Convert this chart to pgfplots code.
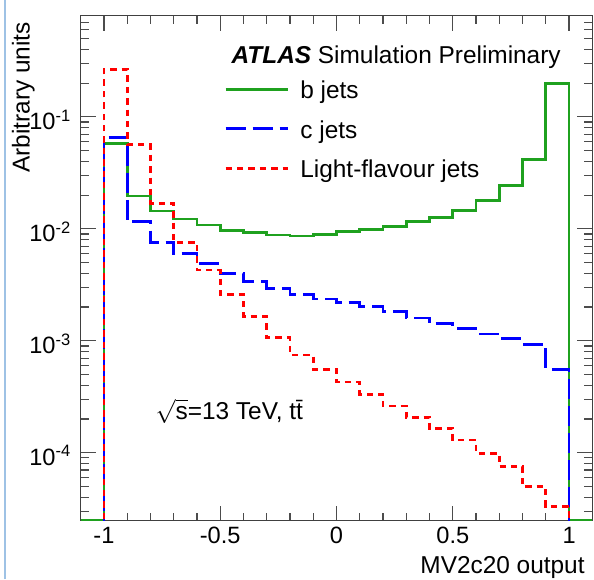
\documentclass[border=0pt]{standalone}
\usepackage{pgfplots}
\pgfplotsset{compat=1.18}
\usepackage{fontspec}
\setmainfont{Liberation Sans}
\definecolor{bgreen}{rgb}{0.12,0.63,0.12}
\definecolor{edgeblue}{rgb}{0.62,0.76,0.90}
\begin{document}
\begin{tikzpicture}[font=\fontsize{12.2}{14}\selectfont]
\begin{axis}[
  scale only axis, width=255.8pt, height=252.5pt,
  xmin=-1.1, xmax=1.1,
  ymode=log, ymin=2.47e-5, ymax=0.8,
  xtick={-1,-0.5,0,0.5,1}, xticklabels={-1,-0.5,0,0.5,1},
  minor x tick num=4,
  ytick={1e-4,1e-3,1e-2,1e-1},
  yticklabels={10\textsuperscript{-4},10\textsuperscript{-3},10\textsuperscript{-2},10\textsuperscript{-1}},
  minor ytick={3e-5,4e-5,5e-5,6e-5,7e-5,8e-5,9e-5,
    2e-4,3e-4,4e-4,5e-4,6e-4,7e-4,8e-4,9e-4,
    2e-3,3e-3,4e-3,5e-3,6e-3,7e-3,8e-3,9e-3,
    2e-2,3e-2,4e-2,5e-2,6e-2,7e-2,8e-2,9e-2,
    2e-1,3e-1,4e-1,5e-1,6e-1,7e-1},
  major tick length=7.5pt, minor tick length=4pt,
  tick style={black!70, line width=0.6pt},
  axis line style={black!75, line width=0.6pt},
  ticklabel style={font=\fontsize{11.8}{13}\selectfont},
  xticklabel style={inner sep=0pt, anchor=north, yshift=-3pt},
  yticklabel style={inner sep=0pt, anchor=east, xshift=-4.5pt, yshift=-1.5pt},
  xlabel={MV2c20 output},
  xlabel style={at={(rel axis cs:0.9857,-0.104)}, anchor=base east, inner sep=0pt},
  ylabel={Arbitrary units},
  ylabel style={at={(rel axis cs:-0.089,0.988)}, anchor=south east, inner sep=0pt},
  const plot,
]
% b jets
\addplot[color=bgreen, line width=1.4pt] table[x=x,y=y] {
  x y
  -1.1 2.47e-5
  -1.0 0.0579
  -0.9 0.0196
  -0.8 0.0144
  -0.7 0.01224
  -0.6 0.0108
  -0.5 0.00973
  -0.4 0.00921
  -0.3 0.00879
  -0.2 0.00861
  -0.1 0.00891
  0.0 0.0094
  0.1 0.00989
  0.2 0.01057
  0.3 0.01155
  0.4 0.01254
  0.5 0.01449
  0.6 0.0178
  0.7 0.0245
  0.8 0.0417
  0.9 0.199
  1.0 2.47e-5
  1.1 2.47e-5
};
% c jets
\addplot[color=blue, line width=1.4pt, dash pattern=on 10pt off 3.5pt] table[x=x,y=y] {
  x y
  -1.0 1e-5
  -1.0 0.0655
  -0.9 0.01155
  -0.8 0.00757
  -0.7 0.00603
  -0.6 0.00491
  -0.5 0.0040
  -0.4 0.00337
  -0.3 0.00294
  -0.2 0.00261
  -0.1 0.00236
  0.0 0.0022
  0.1 0.00204
  0.2 0.00182
  0.3 0.0016
  0.4 0.00143
  0.5 0.00128
  0.6 0.00115
  0.7 0.00104
  0.8 0.00093
  0.9 0.000556
  1.0 1e-5
};
% light-flavour jets
\addplot[color=red, line width=1.4pt, dash pattern=on 3.2pt off 2.5pt] table[x=x,y=y] {
  x y
  -1.0 1e-5
  -1.0 0.265
  -0.9 0.0568
  -0.8 0.01687
  -0.7 0.00757
  -0.6 0.00428
  -0.5 0.00259
  -0.4 0.00164
  -0.3 0.00107
  -0.2 0.000745
  -0.1 0.000556
  0.0 0.000428
  0.1 0.000334
  0.2 0.000261
  0.3 0.000207
  0.4 0.000165
  0.5 0.00013
  0.6 9.88e-5
  0.7 7.5e-5
  0.8 4.97e-5
  0.9 3.3e-5
  1.0 1e-5
};
\node[anchor=base east, inner sep=0pt] at (rel axis cs:0.939,0.906) {\textbf{\textit{ATLAS}} Simulation Preliminary};
\draw[bgreen, line width=1.4pt] (rel axis cs:0.2834,0.854) -- (rel axis cs:0.4046,0.854);
\node[anchor=base west, inner sep=0pt] at (rel axis cs:0.4286,0.8364) {b jets};
\draw[blue, line width=1.4pt, dash pattern=on 10pt off 3.5pt] (rel axis cs:0.2834,0.776) -- (rel axis cs:0.4046,0.776);
\node[anchor=base west, inner sep=0pt] at (rel axis cs:0.4286,0.7578) {c jets};
\draw[red, line width=1.4pt, dash pattern=on 3.2pt off 2.5pt] (rel axis cs:0.2834,0.698) -- (rel axis cs:0.4046,0.698);
\node[anchor=base west, inner sep=0pt] at (rel axis cs:0.4286,0.680) {Light-flavour jets};
\node[anchor=base west, inner sep=0pt] at (rel axis cs:0.1457,0.2008) {$\sqrt{\mbox{s}}$=13 TeV, t\={t}};
\coordinate (bbl) at (rel axis cs:-0.1577,-0.1154);
\coordinate (btr) at (rel axis cs:1.0033,1.0311);
\coordinate (eb1) at (rel axis cs:-0.148,-0.1154);
\coordinate (eb2) at (rel axis cs:-0.148,1.0311);
\end{axis}
\draw[edgeblue, line width=1pt] (eb1) -- (eb2);
\pgfresetboundingbox
\path[use as bounding box] (bbl) rectangle (btr);
\end{tikzpicture}
\end{document}
